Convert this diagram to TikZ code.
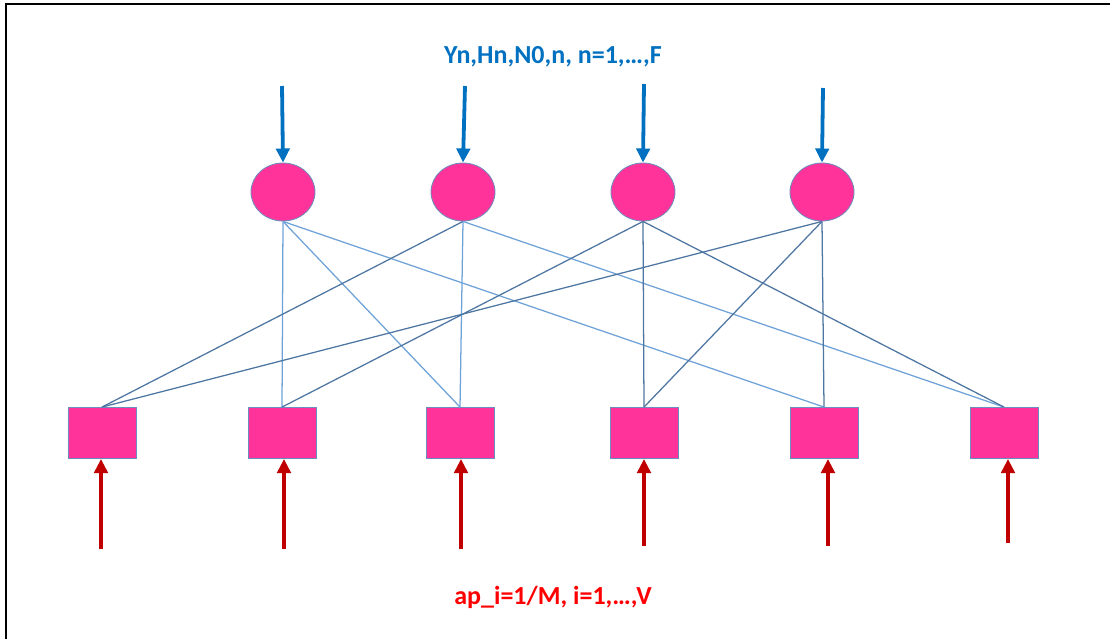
\documentclass[tikz,border=0pt]{standalone}
\usepackage{fontspec}
\setmainfont{Carlito}
\usetikzlibrary{shapes, arrows.meta, positioning}
\definecolor{NodePink}{HTML}{FF3399}
\definecolor{NodeLine}{HTML}{6C8EBF}
\definecolor{EdgeLight}{HTML}{6FA3D8}
\definecolor{EdgeDark}{HTML}{4E76A2}
\definecolor{InBlue}{HTML}{0070C0}
\definecolor{InRed}{HTML}{C00000}

\tikzset{
  factor/.style={ellipse, fill=NodePink, draw=NodeLine, line width=0.6pt,
    minimum width=1.6cm, minimum height=1.45cm, inner sep=0pt},
  varbox/.style={rectangle, fill=NodePink, draw=NodeLine, line width=0.6pt,
    minimum width=1.7cm, minimum height=1.275cm, inner sep=0pt},
  light/.style={EdgeLight, line width=0.9pt},
  dark/.style={EdgeDark, line width=0.9pt},
  inarrow/.style={line width=2.7pt, -{Triangle[length=10pt, width=9.5pt]}},
  lbl/.style={font=\fontsize{18.5}{22}\selectfont\bfseries}
}

\begin{document}
\begin{tikzpicture}[x=0.025cm, y=-0.025cm]
        \useasboundingbox (0,0) rectangle (1110,639);
        % frame, top and left only
        \draw[line width=1.4pt] (6,639) -- (6,4) -- (1110,4);
        % factor nodes
        \node[factor] (c1) at (283,192) {};
        \node[factor] (c2) at (463,192) {};
        \node[factor] (c3) at (643,192) {};
        \node[factor] (c4) at (822,192) {};
        % variable nodes
        \node[varbox] (r1) at (102,433) {};
        \node[varbox] (r2) at (282,433) {};
        \node[varbox] (r3) at (460,433) {};
        \node[varbox] (r4) at (644,433) {};
        \node[varbox] (r5) at (824,433) {};
        \node[varbox] (r6) at (1004,433) {};
        % edges
        \draw[light] (c1.south) -- (r2.north);
        \draw[light] (c1.south) -- (r3.north);
        \draw[light] (c1.south) -- (r5.north);
        \draw[dark]  (c2.south) -- (r1.north);
        \draw[light] (c2.south) -- (r3.north);
        \draw[light] (c2.south) -- (r6.north);
        \draw[dark]  (c3.south) -- (r2.north);
        \draw[dark]  (c3.south) -- (r4.north);
        \draw[dark]  (c3.south) -- (r6.north);
        \draw[dark]  (c4.south) -- (r1.north);
        \draw[dark]  (c4.south) -- (r4.north);
        \draw[dark]  (c4.south) -- (r5.north);
        % inputs from above
        \coordinate (u1) at (282,86);
        \coordinate (u2) at (465,86);
        \coordinate (u3) at (644,84);
        \coordinate (u4) at (823,88);
        \draw[inarrow, InBlue] (u1) -- (c1.north);
        \draw[inarrow, InBlue] (u2) -- (c2.north);
        \draw[inarrow, InBlue] (u3) -- (c3.north);
        \draw[inarrow, InBlue] (u4) -- (c4.north);
        % inputs from below
        \coordinate (d1) at (101,549);
        \coordinate (d2) at (284,549);
        \coordinate (d3) at (461,549);
        \coordinate (d4) at (644,546);
        \coordinate (d5) at (828,546);
        \coordinate (d6) at (1008,543);
        \draw[inarrow, InRed] (d1) -- (r1.south -| d1);
        \draw[inarrow, InRed] (d2) -- (r2.south -| d2);
        \draw[inarrow, InRed] (d3) -- (r3.south -| d3);
        \draw[inarrow, InRed] (d4) -- (r4.south -| d4);
        \draw[inarrow, InRed] (d5) -- (r5.south -| d5);
        \draw[inarrow, InRed] (d6) -- (r6.south -| d6);
        % labels
        \node[lbl, InBlue] (top) at (553,57) {Yn,Hn,N0,n, n=1,…,F};
        \node[lbl, red] (bottom) at (553,597) {ap\_i=1/M, i=1,…,V};
      \end{tikzpicture}
\end{document}
